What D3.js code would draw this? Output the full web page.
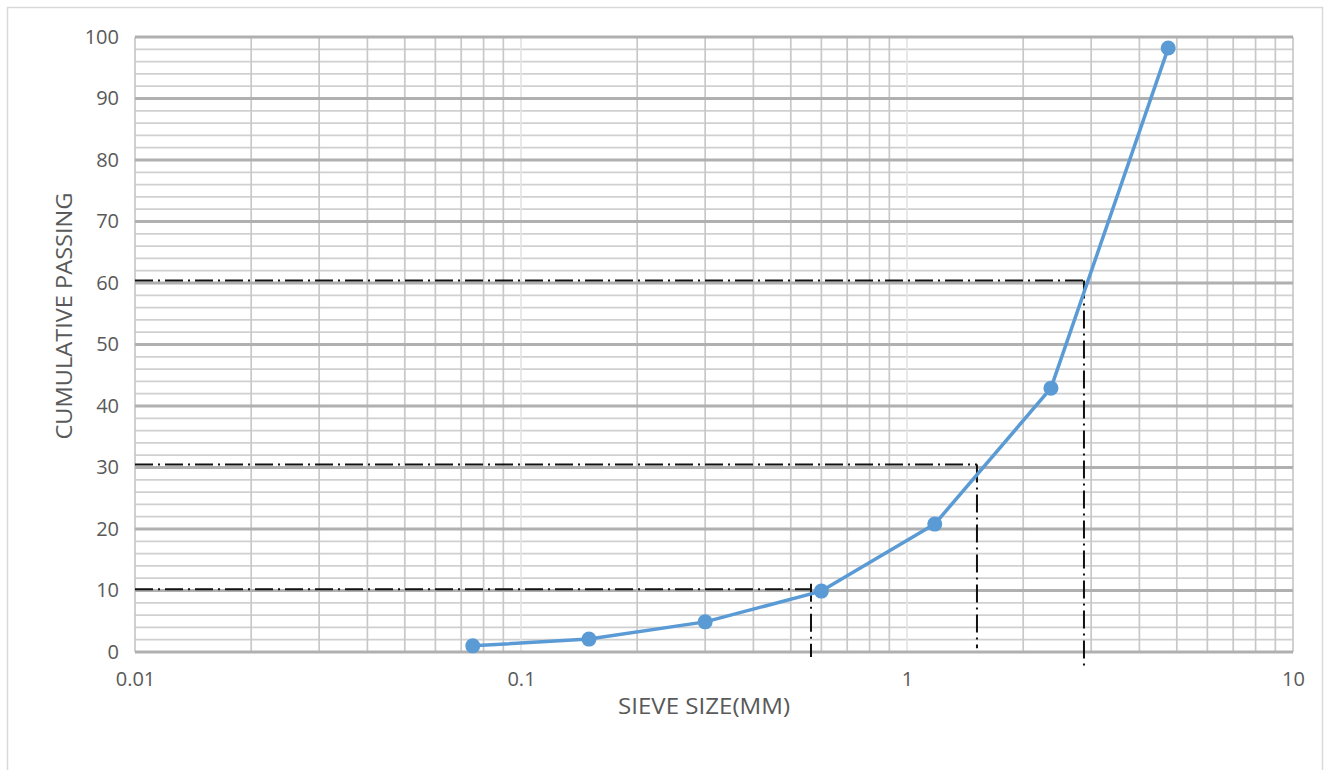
<!DOCTYPE html>
<html><head><meta charset="utf-8">
<script src="https://cdn.jsdelivr.net/npm/d3@7"></script>
<style>body{margin:0;background:#fff;font-family:"Open Sans",sans-serif;}</style>
</head><body><svg id="c" width="1330" height="770"></svg>
<script>
const sieveSizes = [0.075, 0.15, 0.3, 0.6, 1.18, 2.36, 4.75];
const passing = [1.0, 2.1, 4.9, 9.9, 20.8, 42.9, 98.2];
const refLevels = [10.2, 30.5, 60.4];
const refSizes = [0.564, 1.518, 2.874];
const refTops = [11.1, 30.5, 60.4];
const refBottoms = [-0.8, 0.6, -2.4];
const xTicks = [0.01, 0.1, 1, 10];
const yTicks = [0, 10, 20, 30, 40, 50, 60, 70, 80, 90, 100];
const xTitle = "SIEVE SIZE(MM)";
const yTitle = "CUMULATIVE PASSING";

const svg = d3.select("#c");
const L = 135, R = 1293, T = 37, B = 652;
const x = d3.scaleLog().domain([0.01, 10]).range([L, R]);
const y = d3.scaleLinear().domain([0, 100]).range([B, T]);

svg.append("rect").attr("x", 7.5).attr("y", 7.5).attr("width", 1315).attr("height", 770)
  .attr("fill", "none").attr("stroke", "#d9d9d9").attr("stroke-width", 1.5);

const g = svg.append("g");
d3.range(0, 101, 2).filter(v => v % 10 !== 0).forEach(v => {
  g.append("line").attr("x1", L).attr("x2", R).attr("y1", y(v)).attr("y2", y(v))
    .attr("stroke", "#d0d0d0").attr("stroke-width", 1.7);
});
const minors = [];
[0.01, 0.1, 1].forEach(d => { for (let k = 2; k <= 9; k++) minors.push(d * k); });
minors.forEach(v => {
  g.append("line").attr("x1", x(v)).attr("x2", x(v)).attr("y1", T).attr("y2", B)
    .attr("stroke", "#c8c8c8").attr("stroke-width", 1.7);
});
[0.1, 1].forEach(v => {
  g.append("line").attr("x1", x(v)).attr("x2", x(v)).attr("y1", T).attr("y2", B)
    .attr("stroke", "#e4e4e4").attr("stroke-width", 1.7);
});
[0.01, 10].forEach(v => {
  g.append("line").attr("x1", x(v)).attr("x2", x(v)).attr("y1", T).attr("y2", B)
    .attr("stroke", "#c8c8c8").attr("stroke-width", 1.7);
});
yTicks.forEach(v => {
  g.append("line").attr("x1", L).attr("x2", R).attr("y1", y(v)).attr("y2", y(v))
    .attr("stroke", "#b0b0b0").attr("stroke-width", 2.8);
});

const yAxis = svg.append("g").attr("transform", `translate(${L},0)`)
  .call(d3.axisLeft(y).tickValues(yTicks).tickSize(0).tickPadding(16).tickFormat(d3.format("d")));
yAxis.select(".domain").remove();
yAxis.selectAll("text").attr("font-family", "Open Sans, sans-serif").attr("font-size", 20).attr("fill", "#595959");

const xAxis = svg.append("g").attr("transform", `translate(0,${B})`)
  .call(d3.axisBottom(x).tickValues(xTicks).tickSize(0).tickPadding(20).tickFormat(d => String(d)));
xAxis.select(".domain").remove();
xAxis.selectAll("text").attr("font-family", "Open Sans, sans-serif").attr("font-size", 20).attr("fill", "#595959");

svg.append("text").attr("x", 704).attr("y", 714).attr("text-anchor", "middle")
  .attr("font-size", 21).attr("fill", "#595959").attr("textLength", 172)
  .attr("lengthAdjust", "spacingAndGlyphs").text(xTitle);
svg.append("text").attr("transform", "translate(72,316) rotate(-90)").attr("text-anchor", "middle")
  .attr("font-size", 21).attr("fill", "#595959").attr("textLength", 247)
  .attr("lengthAdjust", "spacingAndGlyphs").text(yTitle);

const dash = "18,5,2,5";
refLevels.forEach((lv, i) => {
  svg.append("line").attr("x1", L).attr("x2", x(refSizes[i])).attr("y1", y(lv)).attr("y2", y(lv))
    .attr("stroke", "#111").attr("stroke-width", 2).attr("stroke-dasharray", dash);
  svg.append("line").attr("x1", x(refSizes[i])).attr("x2", x(refSizes[i]))
    .attr("y1", y(refTops[i])).attr("y2", y(refBottoms[i]))
    .attr("stroke", "#111").attr("stroke-width", 2).attr("stroke-dasharray", dash);
});

const pts = sieveSizes.map((s, i) => [s, passing[i]]);
svg.append("path").datum(pts)
  .attr("d", d3.line().x(d => x(d[0])).y(d => y(d[1])))
  .attr("fill", "none").attr("stroke", "#5b9bd5").attr("stroke-width", 3.5).attr("stroke-linejoin", "round");
svg.selectAll("circle.pt").data(pts).enter().append("circle").attr("class", "pt")
  .attr("cx", d => x(d[0])).attr("cy", d => y(d[1])).attr("r", 7.5).attr("fill", "#5b9bd5");
</script></body></html>
